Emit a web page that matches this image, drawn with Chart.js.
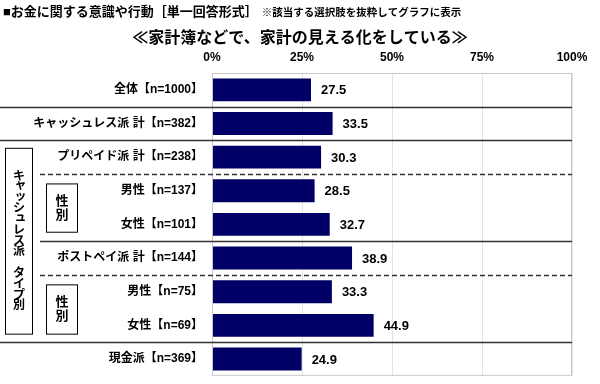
<!DOCTYPE html>
<html lang="ja">
<head>
<meta charset="utf-8">
<script src="https://cdn.jsdelivr.net/npm/chart.js@4"></script>
<style>
  html, body { margin: 0; padding: 0; background: #fff; }
  #wrap { position: relative; width: 600px; height: 384px; }
</style>
</head>
<body>
<div id="wrap"><canvas id="chart" width="600" height="384"></canvas></div>
<script>
// данні графіка
const categories = [
    '全体【n=1000】',
    'キャッシュレス派 計【n=382】',
    'プリペイド派 計【n=238】',
    '男性【n=137】',
    '女性【n=101】',
    'ポストペイ派 計【n=144】',
    '男性【n=75】',
    '女性【n=69】',
    '現金派【n=369】'
];
const values = [27.5, 33.5, 30.3, 28.5, 32.7, 38.9, 33.3, 44.9, 24.9];
const xTicks = [0, 25, 50, 75, 100];

const headerText = '■お金に関する意識や行動［単一回答形式］';
const noteText = '※該当する選択肢を抜粋してグラフに表示';
const titleText = '≪家計簿などで、家計の見える化をしている≫';
const groupText = 'キャッシュレス派 タイプ別';
const sexText = '性別';

const FONT = "'Liberation Sans', 'Noto Sans CJK JP', sans-serif";

// роздільники між рядками: після якого рядка, тип, звідки починається
const separators = [
    { after: 0, dash: false, from: 0 },
    { after: 1, dash: false, from: 0 },
    { after: 2, dash: true, from: 40 },
    { after: 4, dash: false, from: 40 },
    { after: 5, dash: true, from: 40 },
    { after: 7, dash: false, from: 0 }
];

const decorPlugin = {
    id: 'decor',
    beforeDraw(chart) {
        const ctx = chart.ctx;
        ctx.save();
        ctx.fillStyle = '#000';
        ctx.textBaseline = 'middle';
        ctx.textAlign = 'left';
        ctx.font = `bold 13px ${FONT}`;
        ctx.fillText(headerText, 3, 12);
        const w = ctx.measureText(headerText).width;
        ctx.font = `bold 10.5px ${FONT}`;
        ctx.fillText(noteText, 3 + w + 4, 13);
        ctx.textAlign = 'center';
        ctx.font = `bold 16px ${FONT}`;
        ctx.fillText(titleText, 300, 39);
        ctx.restore();
    },
    afterDatasetsDraw(chart) {
        const ctx = chart.ctx;
        const a = chart.chartArea;
        const y = chart.scales.y;
        const bound = i => (y.getPixelForValue(i) + y.getPixelForValue(i + 1)) / 2;

        ctx.save();
        // рамка області графіка
        ctx.strokeStyle = '#c8c8c8';
        ctx.lineWidth = 1;
        ctx.strokeRect(a.left + 0.5, a.top + 0.5, a.right - a.left - 1, a.bottom - a.top - 1);

        // лінії між групами
        ctx.strokeStyle = '#333';
        ctx.lineWidth = 1.3;
        separators.forEach(s => {
            const py = Math.round(bound(s.after)) + 0.5;
            ctx.setLineDash(s.dash ? [5, 3] : []);
            ctx.beginPath();
            ctx.moveTo(s.from, py);
            ctx.lineTo(a.right, py);
            ctx.stroke();
        });
        ctx.setLineDash([]);

        // рамки зліва
        ctx.strokeStyle = '#000';
        ctx.lineWidth = 1;
        const bigTop = bound(1) + 8, bigBot = bound(7) - 8;
        ctx.strokeRect(5.5, bigTop, 27, bigBot - bigTop);
        const boxes = [[bound(2) + 10, bound(4) - 9], [bound(5) + 10, bound(7) - 8]];
        boxes.forEach(([t, b]) => ctx.strokeRect(46.5, t, 31, b - t));

        // вертикальний текст
        ctx.fillStyle = '#000';
        ctx.textAlign = 'center';
        ctx.textBaseline = 'middle';
        ctx.font = `bold 12px ${FONT}`;
        const chars = [...groupText];
        const step = 10.8;
        const mid = (bigTop + bigBot) / 2;
        const small = 'ャッュ';
        chars.forEach((c, i) => {
            const cy = mid + (i - (chars.length - 1) / 2) * step;
            const off = small.includes(c) ? 1.5 : 0;
            ctx.fillText(c, 19 + off, cy - off);
        });
        ctx.font = `bold 13px ${FONT}`;
        boxes.forEach(([t, b]) => {
            const m = (t + b) / 2;
            [...sexText].forEach((c, i) => ctx.fillText(c, 62, m + (i - 0.5) * 14));
        });

        // підписи значень
        ctx.textAlign = 'left';
        ctx.font = `bold 13px ${FONT}`;
        chart.getDatasetMeta(0).data.forEach((bar, i) => {
            ctx.fillText(values[i].toFixed(1), bar.x + 10, bar.y + 1);
        });
        ctx.restore();
    }
};

new Chart(document.getElementById('chart'), {
    type: 'bar',
    data: {
        labels: categories,
        datasets: [{
            data: values,
            backgroundColor: '#000066',
            borderWidth: 0,
            categoryPercentage: 1,
            barPercentage: 0.68
        }]
    },
    options: {
        indexAxis: 'y',
        responsive: false,
        animation: false,
        layout: { padding: { top: 50, right: 28, bottom: 7, left: 0 } },
        plugins: { legend: { display: false }, tooltip: { enabled: false } },
        scales: {
            x: {
                position: 'top',
                min: 0,
                max: 100,
                afterBuildTicks: s => { s.ticks = xTicks.map(v => ({ value: v })); },
                afterFit: s => { s.height = 23; },
                grid: { color: '#e4e4e4', drawTicks: false },
                border: { display: false },
                ticks: {
                    color: '#000',
                    padding: 8,
                    font: { family: FONT, size: 12, weight: 'bold' },
                    callback: v => v + '%'
                }
            },
            y: {
                afterFit: s => { s.width = 212; },
                grid: { display: false },
                border: { display: false },
                ticks: {
                    color: '#000',
                    padding: 1,
                    font: { family: FONT, size: 12, weight: 'bold' }
                }
            }
        }
    },
    plugins: [decorPlugin]
});
</script>
</body>
</html>
